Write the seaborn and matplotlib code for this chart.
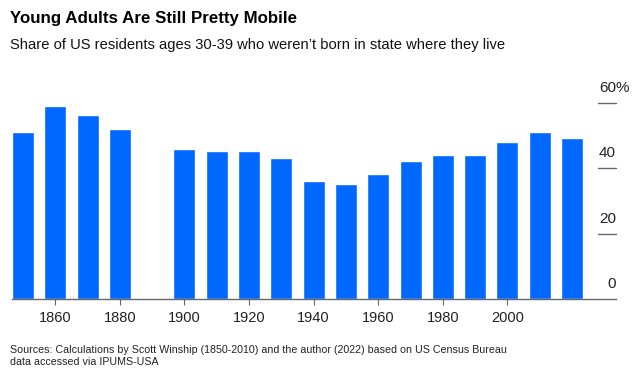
import numpy as np
import pandas as pd
import matplotlib
matplotlib.use("Agg")
import matplotlib.pyplot as plt
import seaborn as sns

# data (share in %, 1890 has no bar)
years = [1850, 1860, 1870, 1880, 1890, 1900, 1910, 1920, 1930,
         1940, 1950, 1960, 1970, 1980, 1990, 2000, 2010, 2022]
share = [51.1, 59.1, 56.1, 52.1, np.nan, 46.0, 45.1, 45.1, 43.1,
         36.0, 35.0, 38.1, 42.1, 44.1, 44.1, 48.0, 51.1, 49.1]
tick_years = [1860, 1880, 1900, 1920, 1940, 1960, 1980, 2000]
y_ticks = [0, 20, 40, 60]
y_tick_labels = ["0", "20", "40", "60%"]

title = "Young Adults Are Still Pretty Mobile"
subtitle = "Share of US residents ages 30-39 who weren\u2019t born in state where they live"
source = ("Sources: Calculations by Scott Winship (1850-2010) and the author (2022) based on US Census Bureau\n"
          "data accessed via IPUMS-USA")

BLUE = "#0068FF"
GREY = "#666666"

sns.set_theme(style="white")
plt.rcParams["font.family"] = ["Liberation Sans", "DejaVu Sans"]

df = pd.DataFrame({"year": [str(y) for y in years], "share": share})

fig = plt.figure(figsize=(6.42, 3.73), dpi=100)
ax = fig.add_axes([12 / 642, 74 / 373, 604 / 642, 196.3 / 373])

sns.barplot(data=df, x="year", y="share", order=df["year"], color=BLUE,
            saturation=1, width=0.68, ax=ax)

ax.set_ylim(0, 60)
ax.set_xlim(-0.34, 18.36)
ax.set_xlabel("")
ax.set_ylabel("")

for s in ["top", "right", "left"]:
    ax.spines[s].set_visible(False)
ax.spines["bottom"].set_color(GREY)
ax.spines["bottom"].set_linewidth(1.0)

# x ticks only on the labelled decades
pos = [years.index(y) for y in tick_years]
ax.set_xticks(pos)
ax.set_xticklabels([str(y) for y in tick_years], fontsize=10.5, color="#222222")
ax.tick_params(axis="x", direction="out", length=4, width=0.8, color=GREY, pad=5,
               bottom=True)
ax.set_yticks([])

# right-side y labels with short grid stubs
for v, lab in zip(y_ticks, y_tick_labels):
    if v > 0:
        ax.axhline(v, xmin=586 / 604, xmax=1.0, color=GREY, lw=1.0, clip_on=False)
    pct = lab.endswith("%")
    ax.text(587 / 604 if pct else 1.0, v + 2.4, lab,
            transform=ax.get_yaxis_transform(),
            ha="left" if pct else "right", va="bottom",
            fontsize=11, color="#222222", clip_on=False)

fig.text(10 / 642, 1 - 19 / 373, title, fontsize=12.2, fontweight="bold",
         ha="left", va="center", color="#000000")
fig.text(10 / 642, 1 - 45 / 373, subtitle, fontsize=10.6,
         ha="left", va="center", color="#111111")
fig.text(10 / 642, 1 - 365 / 373, source, fontsize=7.7, ha="left",
         va="baseline", color="#222222", linespacing=1.3)

fig.savefig("out.png", dpi=100)
